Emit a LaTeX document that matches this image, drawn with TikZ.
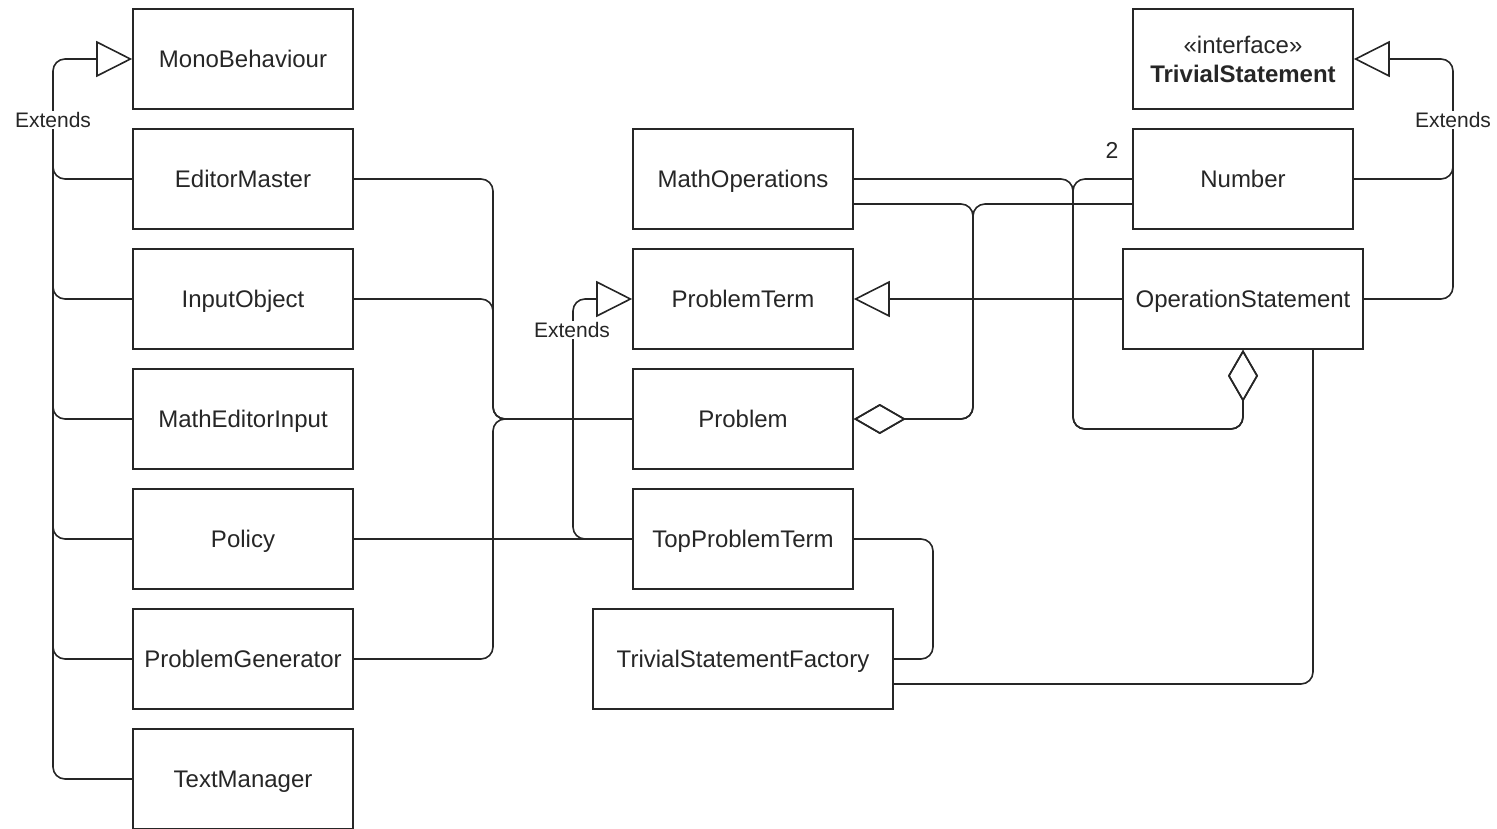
\documentclass[tikz,border=0pt]{standalone}
\usepackage{fontspec}
\setmainfont{Liberation Sans}
\usetikzlibrary{arrows.meta}
\begin{document}
\begin{tikzpicture}[x=1pt,y=-1pt,
  basebox/.style={draw=black!85, line width=1.6pt, minimum width=220pt, minimum height=100pt, inner sep=0pt, font=\fontsize{24}{29}\selectfont, align=center, text=black!85},
  cls/.style={basebox, text height=19pt, text depth=3pt},
  conn/.style={draw=black!85, line width=1.6pt, rounded corners=12pt},
  gen/.style={conn, -{Triangle[open,length=36pt,width=36pt]}},
  agg/.style={conn, {Diamond[open,length=52pt,width=30pt]}-},
  lbl/.style={fill=white, inner sep=1pt, text=black!85, font=\fontsize{21}{24}\selectfont}]
\useasboundingbox (0,0) rectangle (1497,828);
% left column
\node[cls] (mono) at (243,59) {MonoBehaviour};
\node[cls] (editor) at (243,179) {EditorMaster};
\node[cls] (input) at (243,299) {InputObject};
\node[cls] (mei) at (243,419) {MathEditorInput};
\node[cls] (policy) at (243,539) {Policy};
\node[cls] (pgen) at (243,659) {ProblemGenerator};
\node[cls] (textm) at (243,779) {TextManager};
% middle column
\node[cls] (mathops) at (743,179) {MathOperations};
\node[cls] (pterm) at (743,299) {ProblemTerm};
\node[cls] (problem) at (743,419) {Problem};
\node[cls] (tpt) at (743,539) {TopProblemTerm};
\node[cls, minimum width=300pt] (tsf) at (743,659) {TrivialStatementFactory};
% right column
\node[basebox] (ts) at (1243,59) {«interface»\\\textbf{TrivialStatement}};
\node[cls] (number) at (1243,179) {Number};
\node[cls, minimum width=240pt] (opst) at (1243,299) {OperationStatement};

% left extends
\foreach \n in {editor,input,mei,policy,pgen} \draw[conn] (\n.west) -| (53,100);
\draw[gen] (textm.west) -| (53,59) -- (mono.west);
\node[lbl] (ext1) at (53,120) {Extends};

% right extends
\draw[conn] (number.east) -| (1453,140);
\draw[gen] (opst.east) -| (1453,59) -- (ts.east);
\node[lbl] (ext2) at (1453,120) {Extends};

% associations to Problem
\draw[conn] (editor.east) -| (493,419) -- (problem.west);
\draw[conn] (input.east) -| (493,419) -- (problem.west);
\draw[conn] (pgen.east) -| (493,419) -- (problem.west);

% Policy - TopProblemTerm
\draw[conn] (policy.east) -- (tpt.west);

% TopProblemTerm extends ProblemTerm
\draw[gen] (tpt.west) -| (573,299) -- (pterm.west);
\node[lbl] (ext3) at (572,330) {Extends};

% OperationStatement extends ProblemTerm
\draw[gen] (opst.west) -- (pterm.east);

% aggregations at OperationStatement
\draw[agg] (opst.south) -- (1243,429) -- (1073,429) -- (1073,179) -- (mathops.east);
\draw[agg] (opst.south) -- (1243,429) -- (1073,429) -- (1073,179) -- (number.west);
\node[text=black!85, font=\fontsize{23}{27}\selectfont] (mult) at (1112,150) {2};

% aggregations at Problem
\draw[agg] (problem.east) -- (973,419) -- (973,204) -- ([yshift=-25pt]mathops.east);
\draw[agg] (problem.east) -- (973,419) -- (973,204) -- ([yshift=-25pt]number.west);

% TopProblemTerm - TrivialStatementFactory
\draw[conn] (tpt.east) -| (933,659) -- (tsf.east);
% TrivialStatementFactory - OperationStatement
\draw[conn] ([yshift=-25pt]tsf.east) -| ([xshift=70pt]opst.south);
\end{tikzpicture}
\end{document}
